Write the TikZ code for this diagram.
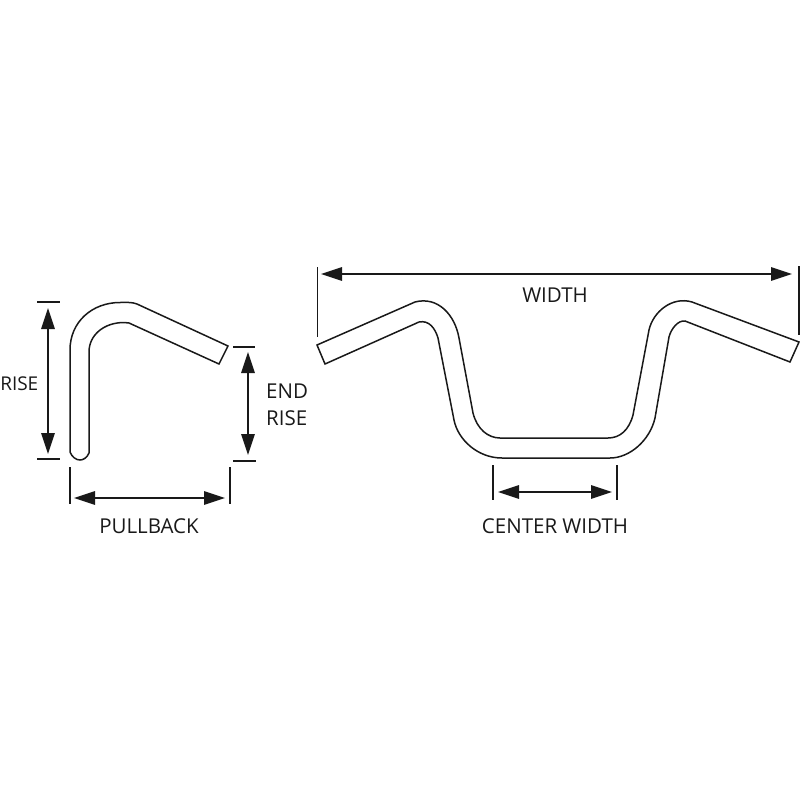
\documentclass[tikz,border=0pt]{standalone}
\usepackage{fontspec}
\setmainfont{Open Sans}
\usetikzlibrary{arrows.meta}
\tikzset{
  tube/.style={line width=1.5pt, black!90, line join=miter},
  tick/.style={line width=1.5pt, black!90},
  dimarrow/.style={line width=1.4pt, black!90, {Triangle[length=21pt,width=13.5pt]}-{Triangle[length=21pt,width=13.5pt]}},
  dimlabel/.style={font=\fontsize{20.5}{27}\selectfont, black!90, inner sep=0pt, align=left}
}
\begin{document}
\begin{tikzpicture}[x=1pt,y=-1pt]
  \useasboundingbox (0,0) rectangle (800,800);
  % side view
  \draw[tube] (70,452) -- (70,350) .. controls (70,322) and (92,302.5) .. (120,302.5)
    .. controls (127,302.5) and (132,302) .. (137,304)
    -- (228,346) -- (219,364) -- (129,323) .. controls (127,322.5) and (126,322.5) .. (124,322.5)
    .. controls (104,322.5) and (89,335) .. (89,352) -- (89,453)
    .. controls (87,458) and (83,460) .. (80,460) .. controls (76,460) and (72,457) .. (70,452) -- cycle;
  % front view
  \draw[tube] (317,345) -- (415,302) .. controls (438,296) and (455,315) .. (459,338) -- (473,413)
    .. controls (477,429) and (488,438) .. (500,438) -- (608,438)
    .. controls (620,438) and (629,430) .. (633,415) -- (649,330)
    .. controls (653,312) and (672,296) .. (692,302) -- (799,342) -- (790,362) -- (685,321)
    .. controls (678,320) and (671,329) .. (669,337) -- (655,418)
    .. controls (650,440) and (630,458) .. (610,458) -- (502,458)
    .. controls (478,458) and (458,440) .. (454,420) -- (438,338)
    .. controls (435,328) and (429,320) .. (419,322) -- (325,364) -- cycle;
  % rise
  \coordinate (risetop) at (48,308);
  \coordinate (risebot) at (48,454);
  \draw[tick] (37,302) -- (60,302);
  \draw[tick] (37,459) -- (60,459);
  \draw[dimarrow] (risetop) -- (risebot);
  \node[dimlabel, font=\fontsize{19}{27}\selectfont, anchor=east] (riselabel) at (38.5,384) {RISE};
  % end rise
  \coordinate (endtop) at (248,352);
  \coordinate (endbot) at (248,455);
  \draw[tick] (233,347) -- (255,347);
  \draw[tick] (233,461) -- (256,461);
  \draw[dimarrow] (endtop) -- (endbot);
  \node[dimlabel, anchor=west] (endlabel) at (266,405) {END\\RISE};
  % pullback
  \coordinate (pullleft) at (74,498);
  \coordinate (pullright) at (225,498);
  \draw[tick] (70,467) -- (70,504);
  \draw[tick] (230,467) -- (230,504);
  \draw[dimarrow] (pullleft) -- (pullright);
  \node[dimlabel] (pulllabel) at (149,526) {PULLBACK};
  % width
  \coordinate (widthleft) at (321,274);
  \coordinate (widthright) at (792,274);
  \draw[tick] (317.5,267) -- (317.5,337);
  \draw[tick] (799,266) -- (799,335);
  \draw[dimarrow] (widthleft) -- (widthright);
  \node[dimlabel] (widthlabel) at (555,295) {WIDTH};
  % center width
  \coordinate (centerleft) at (498,492);
  \coordinate (centerright) at (612,492);
  \draw[tick] (493,465) -- (493,500);
  \draw[tick] (617,465) -- (617,500);
  \draw[dimarrow] (centerleft) -- (centerright);
  \node[dimlabel] (centerlabel) at (555,526) {CENTER WIDTH};
\end{tikzpicture}
\end{document}
